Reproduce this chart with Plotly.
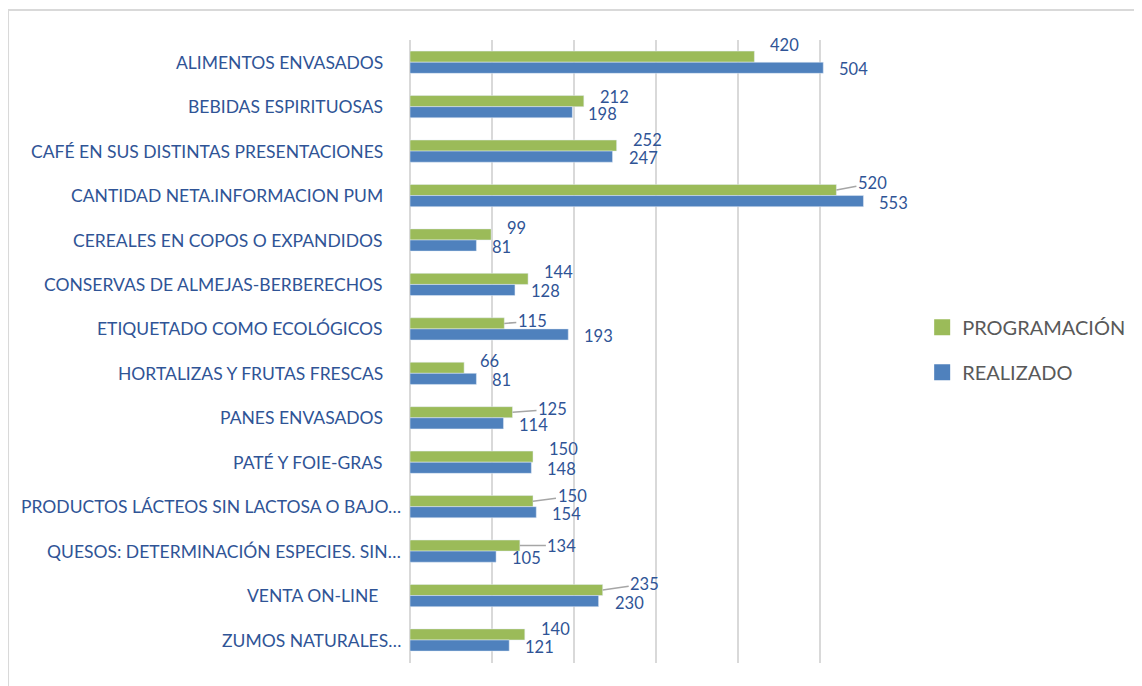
"""Programación vs realizado por campaña - barras horizontales agrupadas."""

import plotly.graph_objects as go

CAMPANAS = [
    "ALIMENTOS ENVASADOS",
    "BEBIDAS ESPIRITUOSAS",
    "CAFÉ EN SUS DISTINTAS PRESENTACIONES",
    "CANTIDAD NETA.INFORMACION PUM",
    "CEREALES EN COPOS O EXPANDIDOS",
    "CONSERVAS DE ALMEJAS-BERBERECHOS",
    "ETIQUETADO COMO ECOLÓGICOS",
    "HORTALIZAS Y FRUTAS FRESCAS",
    "PANES ENVASADOS",
    "PATÉ Y FOIE-GRAS",
    "PRODUCTOS LÁCTEOS SIN LACTOSA O BAJO…",
    "QUESOS: DETERMINACIÓN ESPECIES. SIN…",
    "VENTA ON-LINE ",
    "ZUMOS NATURALES…",
]
PROGRAMACION = [420, 212, 252, 520, 99, 144, 115, 66, 125, 150, 150, 134, 235, 140]
REALIZADO = [504, 198, 247, 553, 81, 128, 193, 81, 114, 148, 154, 105, 230, 121]

VERDE = "#9BBB59"
AZUL = "#4F81BD"
TEXTO = "#2F5496"
FUENTE = "Lato"

# Colocación de etiquetas de la serie verde (píxeles): None = sin línea guía
GUIA_VERDE = [None, None, None, (36, -7), None, None, (28, -2), None,
              (40, -3), None, (39, -5), (42, 0), (42, -6), None]
SUBIR_VERDE = [17, 9.5, 11, 0, 12, 12.5, 0, 12, 0, 13, 0, 0, 0, 11]

fig = go.Figure()
fig.add_trace(go.Bar(
    y=CAMPANAS, x=PROGRAMACION, orientation="h", name="PROGRAMACIÓN",
    marker_color=VERDE, showlegend=False,
))
fig.add_trace(go.Bar(
    y=CAMPANAS, x=REALIZADO, orientation="h", name="REALIZADO",
    marker_color=AZUL, showlegend=False,
))

# Entradas de leyenda con cuadrado más grande
for nombre, color, grupo in [("PROGRAMACIÓN", VERDE, "p"), ("REALIZADO", AZUL, "r")]:
    fig.add_trace(go.Scatter(
        x=[None], y=[None], mode="markers", name=nombre, legendgroup=grupo,
        marker=dict(symbol="square", size=16, color=color),
    ))

anotaciones = []
for i, cat in enumerate(CAMPANAS):
    # etiqueta de categoría (las truncadas con … sobresalen un poco más)
    anotaciones.append(dict(
        x=0, y=cat, xref="x", yref="y", text=cat, showarrow=False,
        xanchor="right", xshift=-7 if cat.endswith("…") else -25,
        font=dict(size=17.5, color=TEXTO, family=FUENTE),
    ))
    guia = GUIA_VERDE[i]
    if guia is None:
        anotaciones.append(dict(
            x=PROGRAMACION[i], y=cat, xref="x", yref="y",
            text=str(PROGRAMACION[i]), showarrow=False, xanchor="left",
            xshift=14, yshift=SUBIR_VERDE[i],
            font=dict(size=16.5, color=TEXTO, family=FUENTE),
        ))
    else:
        anotaciones.append(dict(
            x=PROGRAMACION[i], y=cat, xref="x", yref="y",
            text=str(PROGRAMACION[i]), showarrow=True, arrowhead=0,
            arrowwidth=1.5, arrowcolor="#A6A6A6", ax=guia[0], ay=guia[1],
            yshift=5.5, font=dict(size=16.5, color=TEXTO, family=FUENTE),
        ))
    anotaciones.append(dict(
        x=REALIZADO[i], y=cat, xref="x", yref="y", text=str(REALIZADO[i]),
        showarrow=False, xanchor="left", xshift=14, yshift=-7,
        font=dict(size=16.5, color=TEXTO, family=FUENTE),
    ))

fig.update_layout(
    width=1142,
    height=686,
    margin=dict(l=402, r=248, t=32, b=31),
    paper_bgcolor="white",
    plot_bgcolor="white",
    barmode="group",
    bargap=0.5,
    bargroupgap=0,
    font=dict(family=FUENTE, color=TEXTO),
    xaxis=dict(
        range=[0, 600], dtick=100, showticklabels=False,
        showgrid=True, gridcolor="#D9D9D9", gridwidth=2,
        zeroline=True, zerolinecolor="#D9D9D9", zerolinewidth=2,
        fixedrange=True,
    ),
    yaxis=dict(
        autorange="reversed", showticklabels=False, showgrid=False,
        fixedrange=True,
    ),
    legend=dict(
        x=1.041, y=0.503, xanchor="left", yanchor="middle",
        traceorder="grouped", tracegroupgap=16,
        font=dict(size=20, color="#595959", family=FUENTE),
    ),
    annotations=anotaciones,
    shapes=[dict(
        type="rect", xref="paper", yref="paper",
        x0=-0.817, x1=1.51, y0=-0.06, y1=1.048,
        line=dict(color="#D9D9D9", width=2), layer="below",
    )],
)

fig.write_html("out.html")
